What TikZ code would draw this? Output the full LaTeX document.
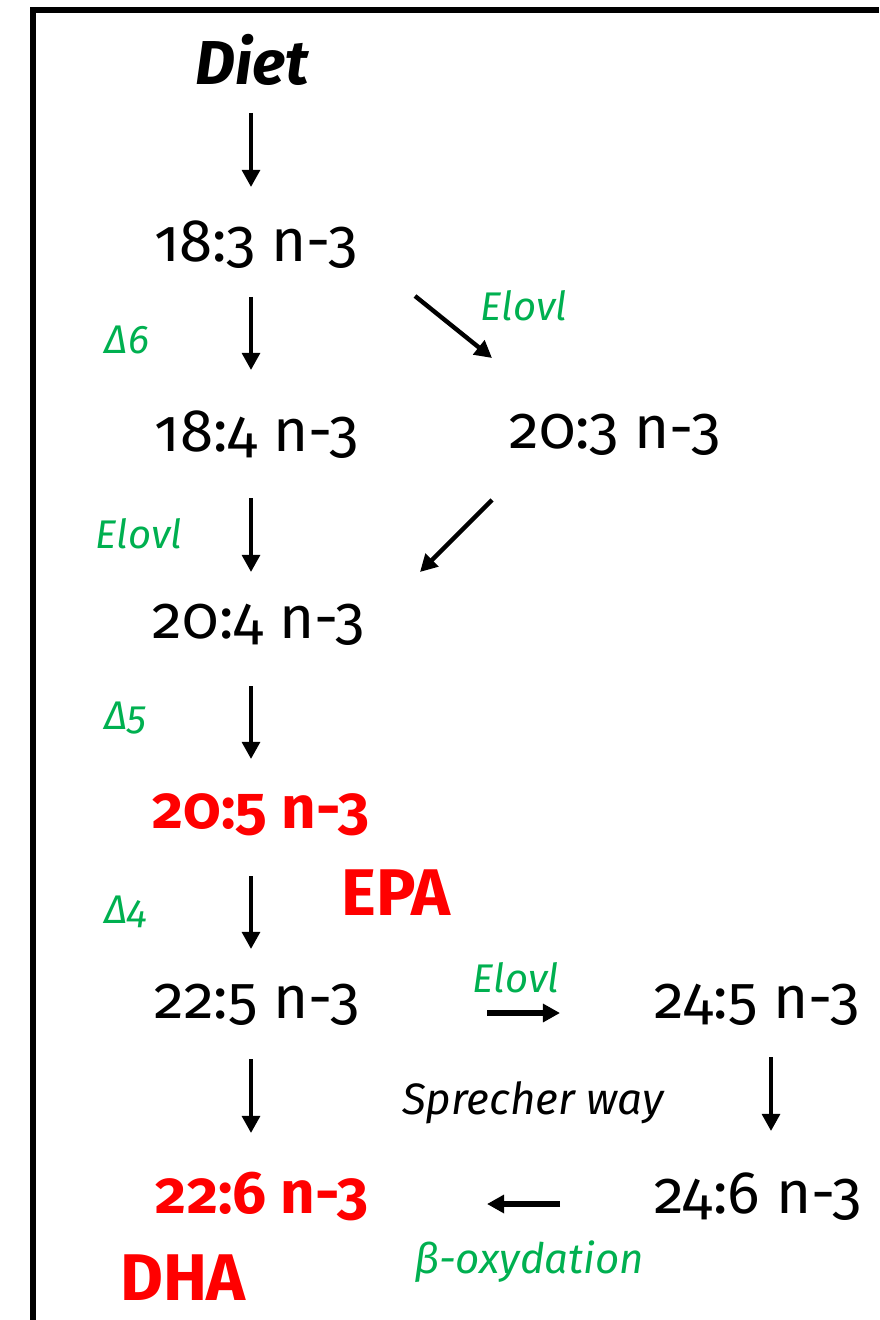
\documentclass[tikz,border=0pt]{standalone}
\usepackage{fontspec}
\setmainfont{Fira Sans}[Numbers=OldStyle]
\usepackage{tikz}
\usetikzlibrary{arrows.meta}
\tikzset{>={Triangle[width=3.1mm,length=3mm]}}
\definecolor{enzgreen}{RGB}{0,176,80}
\definecolor{epared}{RGB}{255,0,0}

\begin{document}
\begin{tikzpicture}[
    x = 0.5pt, y = -0.5pt,
    fa/.style = {font=\fontsize{30}{34}\selectfont, inner sep=1pt},
    pufa/.style = {fa, font=\fontsize{30}{34}\selectfont\bfseries, text=epared},
    enz/.style = {font=\fontsize{20}{24}\selectfont\itshape, text=enzgreen, inner sep=1pt},
    arr/.style = {->, line width=2pt},
    harr/.style = {->, line width=2.6pt}
  ]
  \useasboundingbox (0,0) rectangle (879,1320);
  \draw[line width=3pt] (33,1320) -- (33,10) -- (879,10);

  % main chain
  \node[font=\fontsize{31}{34}\selectfont\bfseries\itshape, inner sep=1pt] (diet) at (252,60) {Diet};
  \node[fa] (a183) at (256,245) {18:3 n-3};
  \node[fa] (a184) at (257,435) {18:4 n-3};
  \node[fa] (a203) at (615,435) {20:3 n-3};
  \node[fa] (a204) at (259,625) {20:4 n-3};
  \node[pufa] (epa) at (261,815) {20:5 n-3};
  \node[pufa, font=\fontsize{33}{36}\selectfont\bfseries] (epatxt) at (396,893) {EPA};
  \node[fa] (a225) at (257,1005) {22:5 n-3};
  \node[fa] (a245) at (757,1005) {24:5 n-3};
  \node[fa] (a246) at (758,1197) {24:6 n-3};
  \node[pufa] (dha) at (262,1197) {22:6 n-3};
  \node[pufa, font=\fontsize{33}{36}\selectfont\bfseries] (dhatxt) at (183,1278) {DHA};

  % enzymes
  \node[enz] (d6) at (127,340) {Δ6};
  \node[enz] (el1) at (524,306) {Elovl};
  \node[enz] (el2) at (139,534) {Elovl};
  \node[enz] (d5) at (126,718) {Δ5};
  \node[enz] (d4) at (126,912) {Δ4};
  \node[enz] (el3) at (516,978) {Elovl};
  \node[font=\fontsize{22}{26}\selectfont\itshape, inner sep=1pt] (spr) at (533,1103) {Sprecher way};
  \node[enz, font=\fontsize{21}{24}\selectfont\itshape] (box) at (529,1262) {β-oxydation};

  % conversions
  \draw[arr] ([shift={(-1,53)}]diet.center) -- ([shift={(-5,-58)}]a183.center);
  \draw[arr] ([shift={(-5,52)}]a183.center) -- ([shift={(-6,-65)}]a184.center);
  \draw[arr] ([shift={(-6,63)}]a184.center) -- ([shift={(-8,-53)}]a204.center);
  \draw[arr] ([shift={(-8,61)}]a204.center) -- ([shift={(-10,-56)}]epa.center);
  \draw[arr] ([shift={(-10,61)}]epa.center) -- ([shift={(-6,-56)}]a225.center);
  \draw[arr] ([shift={(-6,54)}]a225.center) -- ([shift={(-11,-64)}]dha.center);
  \draw[arr] ([shift={(14,52)}]a245.center) -- ([shift={(13,-66)}]a246.center);
  \draw[->, line width=2.2pt] ([shift={(159,51)}]a183.center) -- ([shift={(-123,-77)}]a203.center);
  \draw[->, line width=2.2pt] ([shift={(-123,65)}]a203.center) -- ([shift={(161,-53)}]a204.center);
  \draw[harr] ([shift={(230,8)}]a225.center) -- ([shift={(-197,8)}]a245.center);
  \draw[harr] ([shift={(-198,7)}]a246.center) -- ([shift={(225,7)}]dha.center);
\end{tikzpicture}
\end{document}
